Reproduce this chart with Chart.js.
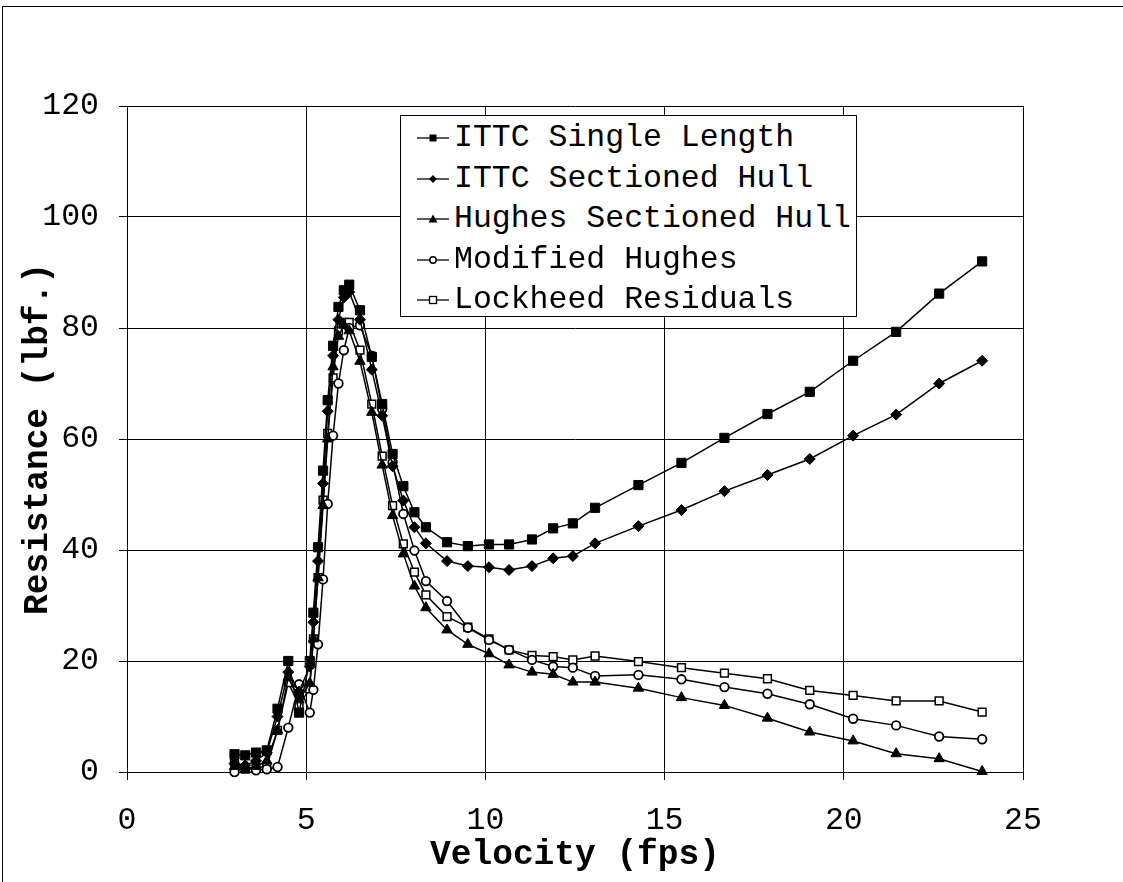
<!DOCTYPE html>
<html><head><meta charset="utf-8">
<script src="https://cdn.jsdelivr.net/npm/chart.js@4"></script>
<style>
html,body{margin:0;padding:0;background:#fff;}
#wrap{position:relative;width:1123px;height:882px;overflow:hidden;background:#fff;}
#frame{position:absolute;left:2px;top:6px;width:1300px;height:1000px;border-top:1.5px solid #000;border-left:1.5px solid #000;}
#c{position:absolute;left:0;top:0;}
#legend{position:absolute;left:400px;top:115px;width:457px;height:202px;border:1.5px solid #000;background:#fff;box-sizing:border-box;font-family:"Liberation Mono","Courier New",monospace;font-size:31.5px;color:#000;}
.row{position:absolute;left:14px;height:40px;white-space:nowrap;display:flex;align-items:center;}
.row span{margin-left:3px;line-height:40px;}
</style>
</head><body>
<div id="wrap">
<div id="frame"></div>
<canvas id="c" width="1123" height="882"></canvas>
<div id="legend"></div>
</div>
<script>
const velocity = [3.0,3.3,3.6,3.9,4.2,4.5,4.8,5.1,5.2,5.33,5.47,5.6,5.75,5.9,6.05,6.2,6.5,6.83,7.12,7.41,7.71,8.02,8.34,8.93,9.51,10.1,10.66,11.3,11.89,12.44,13.06,14.27,15.47,16.67,17.87,19.05,20.26,21.46,22.66,23.86];
const ittcSingle = [3.2,3.0,3.5,3.9,11.4,20.0,10.7,20.0,28.7,40.5,54.3,67.0,76.8,83.8,86.8,87.8,83.2,74.8,66.3,57.3,51.5,46.8,44.1,41.4,40.7,41.0,41.0,41.9,43.9,44.8,47.6,51.7,55.7,60.2,64.5,68.5,74.1,79.3,86.2,92.0];
const ittcSectioned = [1.5,1.2,2.0,3.5,10.0,18.0,14.5,19.0,27.0,38.0,52.0,65.0,75.0,81.5,85.5,86.5,81.5,72.5,64.2,55.1,48.9,44.1,41.2,38.0,37.1,36.9,36.4,37.1,38.5,38.9,41.2,44.3,47.2,50.6,53.5,56.4,60.6,64.4,70.0,74.1];
const hughesSectioned = [1.0,0.5,1.0,2.0,7.5,17.0,13.0,16.0,24.0,35.0,48.0,60.0,73.0,78.5,80.5,79.5,74.0,64.8,55.3,46.2,39.3,33.5,29.6,25.6,23.0,21.3,19.3,18.0,17.6,16.2,16.2,15.1,13.4,12.0,9.7,7.2,5.6,3.3,2.4,0.1];
const modifiedHughes = [0.0,0.8,0.3,0.5,0.9,8.0,15.8,10.7,14.8,23.0,34.7,48.3,60.6,70.0,76.0,80.0,80.5,75.0,65.4,55.8,46.5,39.9,34.4,30.8,26.0,23.8,22.0,20.2,19.0,18.8,17.3,17.5,16.7,15.3,14.1,12.2,9.6,8.4,6.4,5.9];
const lockheedResiduals = [1.5,0.5,0.8,1.0,7.5,16.1,12.0,15.0,24.0,35.0,49.0,61.0,71.0,79.5,81.0,81.0,76.0,66.3,56.9,48.0,41.1,36.0,31.9,28.0,26.1,24.0,22.0,21.0,20.8,20.2,20.9,19.9,18.8,17.8,16.8,14.7,13.8,12.8,12.8,10.8];
const seriesNames = ['ITTC Single Length','ITTC Sectioned Hull','Hughes Sectioned Hull','Modified Hughes','Lockheed Residuals'];
const xTicks = [0,5,10,15,20,25];
const yTicks = [0,20,40,60,80,100,120];

const seriesValues = [ittcSingle, ittcSectioned, hughesSectioned, modifiedHughes, lockheedResiduals];
const styles = [
  {pointStyle:'rect', radius:6.5, bg:'#000', bw:1},
  {pointStyle:'rectRot', radius:5.5, bg:'#000', bw:1},
  {pointStyle:'triangle', radius:6, bg:'#000', bw:1},
  {pointStyle:'circle', radius:4.3, bg:'#fff', bw:1.8},
  {pointStyle:'rect', radius:5.5, bg:'#fff', bw:1.5}
];
const monoFont = '"Liberation Mono","Courier New",monospace';

const datasets = seriesValues.map((vals, k) => ({
  label: seriesNames[k],
  data: velocity.map((v, i) => ({x: v, y: vals[i]})),
  borderColor: '#000',
  borderWidth: 1.5,
  backgroundColor: styles[k].bg,
  pointStyle: styles[k].pointStyle,
  pointRadius: styles[k].radius,
  pointBackgroundColor: styles[k].bg,
  pointBorderColor: '#000',
  pointBorderWidth: styles[k].bw,
  tension: 0,
  fill: false,
  clip: false
}));

new Chart(document.getElementById('c'), {
  type: 'line',
  data: { datasets },
  options: {
    responsive: false,
    animation: false,
    devicePixelRatio: 1,
    layout: { padding: { top: 106, right: 100, left: 0, bottom: 0 } },
    plugins: { legend: { display: false }, tooltip: { enabled: false } },
    scales: {
      x: {
        type: 'linear', min: 0, max: 25,
        afterBuildTicks: s => { s.ticks = xTicks.map(v => ({value: v})); },
        afterFit: s => { s.height = 110; },
        ticks: { color: '#000', font: { family: monoFont, size: 31.5 }, padding: 22, maxRotation: 0 },
        grid: { color: '#000', lineWidth: 1, tickLength: 8, tickColor: '#000' },
        border: { color: '#000', width: 1 },
        title: { display: true, text: 'Velocity (fps)', color: '#000', font: { family: monoFont, size: 34.5, weight: 'bold' }, padding: { top: 0, bottom: 6 } }
      },
      y: {
        type: 'linear', min: 0, max: 120,
        afterBuildTicks: s => { s.ticks = yTicks.map(v => ({value: v})); },
        afterFit: s => { s.width = 127; },
        ticks: { color: '#000', font: { family: monoFont, size: 31.5 }, padding: 20 },
        grid: { color: '#000', lineWidth: 1, tickLength: 8, tickColor: '#000' },
        border: { color: '#000', width: 1 },
        title: { display: true, text: 'Resistance (lbf.)', color: '#000', font: { family: monoFont, size: 34.5, weight: 'bold' }, padding: { top: 18, bottom: 0 } }
      }
    }
  }
});

function markerSvg(k) {
  let m = '';
  const cx = 18, cy = 10;
  if (k === 0) m = `<rect x="${cx-3.5}" y="${cy-3.5}" width="7" height="7" fill="#000"/>`;
  else if (k === 1) m = `<polygon points="${cx},${cy-4} ${cx+4},${cy} ${cx},${cy+4} ${cx-4},${cy}" fill="#000"/>`;
  else if (k === 2) m = `<polygon points="${cx},${cy-4.5} ${cx+4.5},${cy+3.5} ${cx-4.5},${cy+3.5}" fill="#000"/>`;
  else if (k === 3) m = `<circle cx="${cx}" cy="${cy}" r="3.2" fill="#fff" stroke="#000" stroke-width="1.5"/>`;
  else m = `<rect x="${cx-3.5}" y="${cy-3.5}" width="7" height="7" fill="#fff" stroke="#000" stroke-width="1.3"/>`;
  return `<svg width="36" height="20" viewBox="0 0 36 20"><line x1="2" y1="10" x2="34" y2="10" stroke="#000" stroke-width="1.3"/>${m}</svg>`;
}
const lg = document.getElementById('legend');
seriesNames.forEach((name, k) => {
  const row = document.createElement('div');
  row.className = 'row';
  row.style.top = (2 + k * 40.5) + 'px';
  row.innerHTML = markerSvg(k) + '<span>' + name + '</span>';
  lg.appendChild(row);
});
</script>
</body></html>
